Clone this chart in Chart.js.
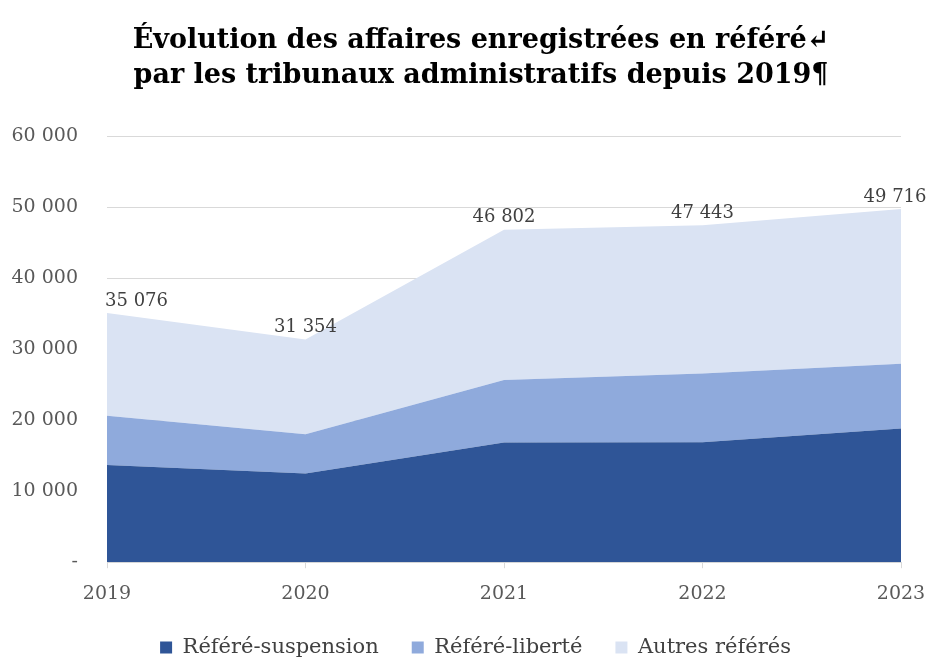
<!DOCTYPE html>
<html>
<head>
<meta charset="utf-8">
<script src="https://cdn.jsdelivr.net/npm/chart.js@4"></script>
<style>
  html, body { margin: 0; padding: 0; background: #fff; }
  #wrap { width: 930px; height: 659px; }
</style>
</head>
<body>
<div id="wrap"><canvas id="chart" width="930" height="659"></canvas></div>
<script>
// annees et series
years = ["2019", "2020", "2021", "2022", "2023"]
suspension = [13700, 12470, 16850, 16900, 18830]
liberte = [6920, 5560, 8810, 9650, 9090]
autres = [14456, 13324, 21142, 20893, 21796]
totals = [35076, 31354, 46802, 47443, 49716]
titleLines = ["Évolution des affaires enregistrées en référé↵", "par les tribunaux administratifs depuis 2019¶"]

serif = "'DejaVu Serif', 'Liberation Serif', serif"

function fmt(v) {
  if (v === 0) return "-"
  return String(v).replace(/\B(?=(\d{3})+(?!\d))/g, " ")
}

// titre dessine a la main (centre un peu a droite comme l'original)
titlePlugin = {
  id: 'titlePlugin',
  afterDraw(chart) {
    var ctx = chart.ctx
    ctx.save()
    ctx.font = "bold 27px " + serif
    ctx.fillStyle = "#000"
    ctx.textAlign = "center"
    ctx.textBaseline = "middle"
    ctx.fillText(titleLines[0], 481, 41)
    ctx.fillText(titleLines[1], 481, 76)
    ctx.restore()
  }
}

// deplace la legende (le padding des items la pousse trop bas, et elle est un peu a droite)
legendShift = {
  id: 'legendShift',
  afterLayout(chart) {
    chart.legend.top -= 15
    chart.legend.bottom -= 15
    chart.legend.left += 25
    chart.legend.right += 25
  }
}

// etiquettes des totaux au-dessus de la derniere serie
totalLabels = {
  id: 'totalLabels',
  afterDatasetsDraw(chart) {
    var ctx = chart.ctx
    var meta = chart.getDatasetMeta(2)
    ctx.save()
    ctx.font = "18px " + serif
    ctx.fillStyle = "#404040"
    ctx.textBaseline = "bottom"
    meta.data.forEach((pt, i) => {
      ctx.textAlign = i === 0 ? "left" : "center"
      var dx = i === 0 ? -2 : (i === totals.length - 1 ? -6 : 0)
      ctx.fillText(fmt(totals[i]), pt.x + dx, pt.y - 3)
    })
    ctx.restore()
  }
}

var ctx = document.getElementById('chart').getContext('2d')
var myChart = new Chart(ctx, {
  type: 'line',
  data: {
    labels: years,
    datasets: [
      { label: "Référé-suspension", data: suspension, backgroundColor: "#2F5597", borderWidth: 0, pointRadius: 0, fill: 'origin' },
      { label: "Référé-liberté", data: liberte, backgroundColor: "#8FAADC", borderWidth: 0, pointRadius: 0, fill: '-1' },
      { label: "Autres référés", data: autres, backgroundColor: "#DAE3F3", borderWidth: 0, pointRadius: 0, fill: '-1' }
    ]
  },
  options: {
    responsive: false,
    animation: false,
    layout: { padding: { left: 0, right: 29, top: 136, bottom: -24 } },
    plugins: {
      title: { display: false },
      legend: {
        position: 'bottom',
        labels: {
          font: { family: serif, size: 21 },
          color: "#404040",
          boxWidth: 12,
          boxHeight: 12,
          padding: 33
        }
      },
      tooltip: { enabled: false }
    },
    scales: {
      x: {
        offset: false,
        afterFit: function(scale) { scale.paddingRight = 0; scale.paddingLeft = 0 },
        grid: { display: true, drawOnChartArea: false, tickLength: 6, color: "#d9d9d9" },
        border: { color: "#d9d9d9" },
        ticks: { font: { family: serif, size: 19 }, color: "#595959", padding: 14 }
      },
      y: {
        stacked: true,
        min: 0,
        max: 60000,
        afterFit: function(scale) { scale.width = 107 },
        grid: { color: "#d9d9d9", drawTicks: false },
        border: { display: false },
        ticks: {
          stepSize: 10000,
          padding: 29,
          font: { family: serif, size: 19 },
          color: "#595959",
          callback: function(v) { return fmt(v) }
        }
      }
    }
  },
  plugins: [totalLabels, titlePlugin, legendShift]
})
</script>
</body>
</html>
